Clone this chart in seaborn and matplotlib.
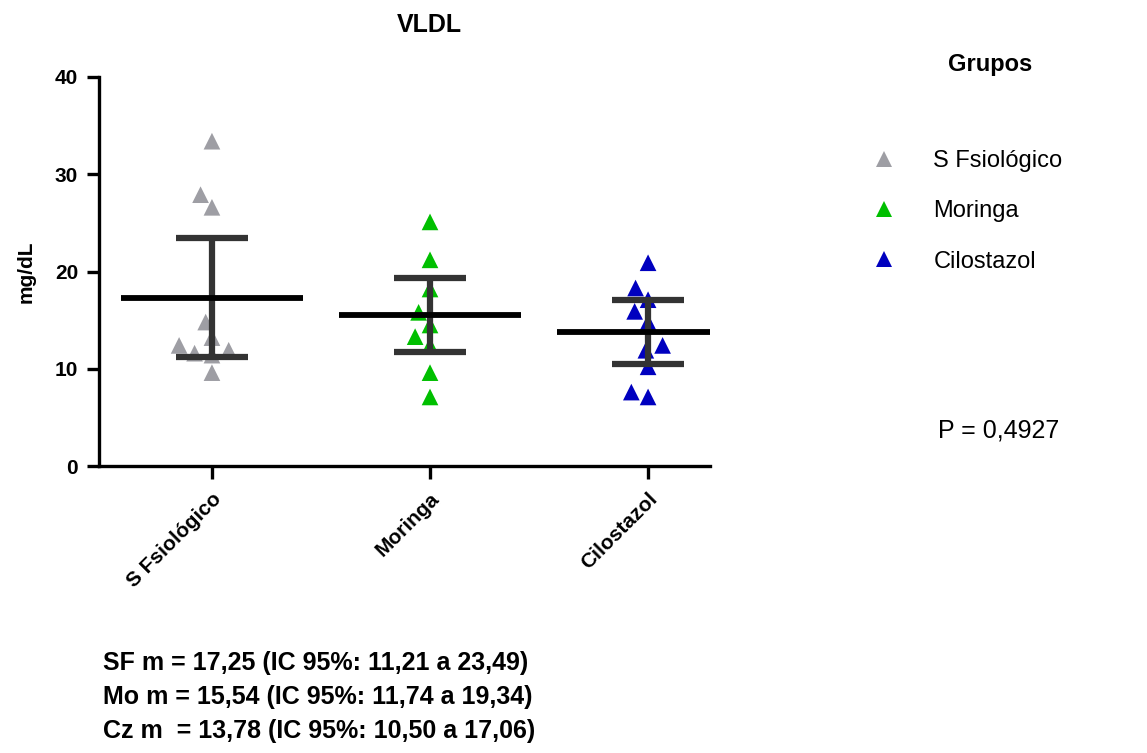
import matplotlib
matplotlib.use("Agg")
import matplotlib.pyplot as plt
import seaborn as sns
import pandas as pd
import numpy as np
from matplotlib.lines import Line2D

# ---- data ----
groups = ["S Fsiológico", "Moringa", "Cilostazol"]
sf_values = [33.4, 27.9, 26.6, 14.8, 13.2, 11.6, 11.4, 12.4, 11.9, 9.6]
mo_values = [25.1, 21.2, 18.2, 15.8, 14.5, 13.3, 12.4, 9.6, 7.1]
cz_values = [20.9, 18.3, 17.1, 15.9, 14.8, 11.9, 12.4, 10.2, 7.6, 7.1]
means = [17.25, 15.54, 13.78]
ci_low = [11.21, 11.74, 10.50]
ci_high = [23.49, 19.34, 17.06]
colors = ["#9E9EA4", "#00BF00", "#0000BF"]
yticks = [0, 10, 20, 30, 40]
stats_lines = [
    "SF m = 17,25 (IC 95%: 11,21 a 23,49)",
    "Mo m = 15,54 (IC 95%: 11,74 a 19,34)",
    "Cz m  = 13,78 (IC 95%: 10,50 a 17,06)",
]
p_text = "P = 0,4927"

df = pd.DataFrame({
    "grupo": [groups[0]] * len(sf_values) + [groups[1]] * len(mo_values) + [groups[2]] * len(cz_values),
    "valor": sf_values + mo_values + cz_values,
})

sns.set_theme(style="white")
plt.rcParams["font.family"] = ["Liberation Sans", "DejaVu Sans"]
for k in ["text.color", "axes.labelcolor", "xtick.color", "ytick.color"]:
    plt.rcParams[k] = "black"

W, H = 1147, 753
fig = plt.figure(figsize=(W / 100, H / 100), dpi=100)
ax = fig.add_axes([99 / W, 1 - 466 / H, (710 - 99) / W, (466 - 77) / H])

sns.swarmplot(data=df, x="grupo", y="valor", hue="grupo", palette=colors,
              order=groups, hue_order=groups, marker="^", size=12,
              linewidth=0, ax=ax, legend=False, zorder=2)

xpos = np.arange(len(groups))
m = np.array(means)
ax.errorbar(xpos, m, yerr=[m - np.array(ci_low), np.array(ci_high) - m],
            fmt="none", ecolor="#333333", elinewidth=4.5, capsize=26, capthick=4.5, zorder=3)
ax.hlines(m, xpos - 0.417, xpos + 0.417, color="black", linewidth=4.2, zorder=4)

ax.set_xlim(-0.518, 2.284)
ax.set_ylim(0, 40)
ax.set_yticks(yticks)
ax.set_yticklabels([str(t) for t in yticks], fontweight="bold", fontsize=15)
ax.set_xticks(xpos)
ax.set_xticklabels(groups, rotation=45, ha="right", rotation_mode="anchor",
                   fontweight="bold", fontsize=15)
ax.set_xlabel("")
ax.set_ylabel("mg/dL", fontweight="bold", fontsize=15, labelpad=14)
for s in ["top", "right"]:
    ax.spines[s].set_visible(False)
for s in ["left", "bottom"]:
    ax.spines[s].set_linewidth(2.4)
    ax.spines[s].set_color("black")
ax.tick_params(axis="both", which="major", length=9, width=2.4, color="black",
               direction="out", left=True, bottom=True)
ax.tick_params(axis="y", pad=6)
ax.tick_params(axis="x", pad=8)

fig.text(429 / W, 1 - 25 / H, "VLDL", ha="center", va="center",
         fontweight="bold", fontsize=18)

# legend
fig.text(990 / W, 1 - 65 / H, "Grupos", ha="center", va="center",
         fontweight="bold", fontsize=17)
handles = [Line2D([0], [0], marker="^", linestyle="none", markersize=12,
                  markerfacecolor=c, markeredgewidth=0) for c in colors]
fig.legend(handles, groups, loc="upper left", bbox_to_anchor=(872 / W, 1 - 150 / H),
           frameon=False, fontsize=17, handlelength=1.0, handletextpad=1.6,
           labelspacing=1.2, borderaxespad=0, borderpad=0)

fig.text(938 / W, 1 - 430 / H, p_text, ha="left", va="center", fontsize=18)

for i, line in enumerate(stats_lines):
    fig.text(103 / W, 1 - (663 + 34 * i) / H, line, ha="left", va="center",
             fontweight="bold", fontsize=18)

fig.savefig("out.png", dpi=100)
